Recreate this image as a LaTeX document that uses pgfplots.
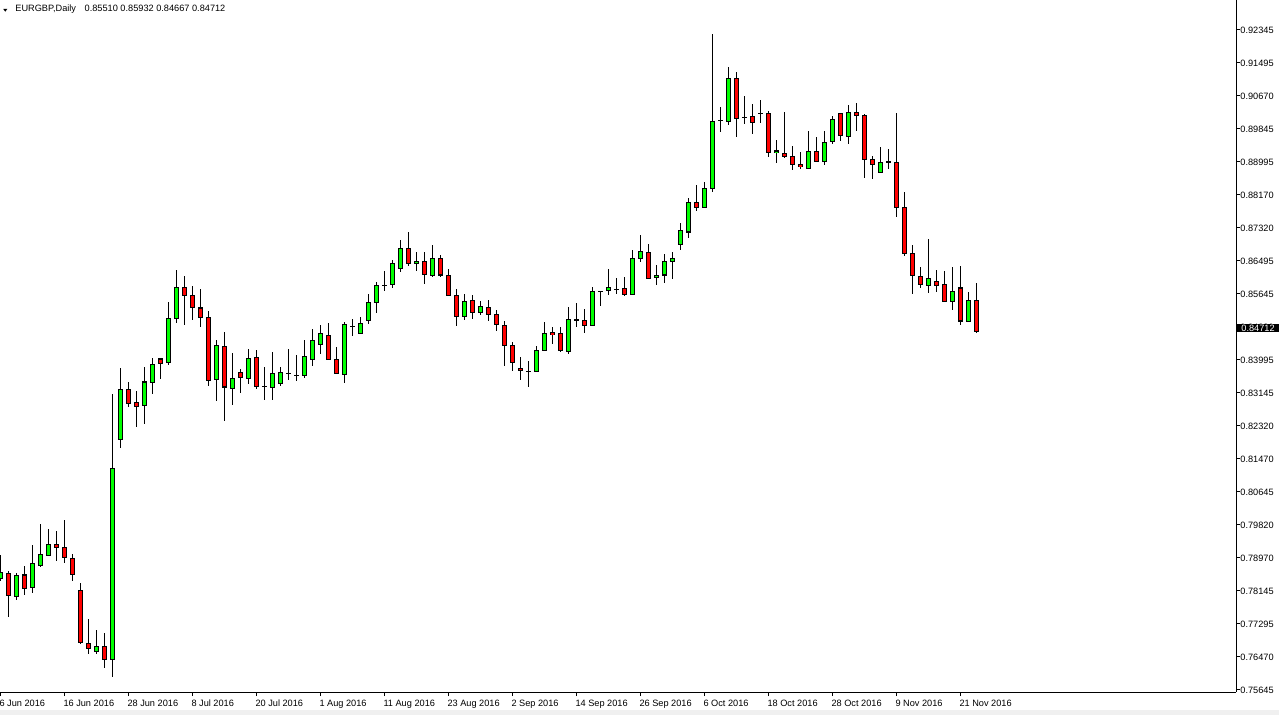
\documentclass[border=0pt]{standalone}
\usepackage{pgfplots}
\pgfplotsset{compat=1.18}
\usepackage{pgfplotstable}
\usepackage{fontspec}
\setmainfont{Liberation Sans}
\definecolor{mtgreen}{RGB}{0,255,0}
\definecolor{mtred}{RGB}{255,0,0}
\definecolor{stripgray}{RGB}{240,240,240}

\pgfplotstableread{
x O H L C
0 0.78454 0.79061 0.78403 0.78606
1 0.78580 0.78656 0.77492 0.78024
2 0.78024 0.78606 0.77922 0.78555
3 0.78555 0.78783 0.78049 0.78226
4 0.78226 0.79314 0.78099 0.78833
5 0.78808 0.79845 0.78757 0.79086
6 0.79061 0.79719 0.79036 0.79339
7 0.79339 0.79668 0.78909 0.79263
8 0.79263 0.79947 0.78859 0.79010
9 0.78985 0.79086 0.78403 0.78580
10 0.78150 0.78353 0.76822 0.76834
11 0.76834 0.77442 0.76556 0.76708
12 0.76607 0.77163 0.76556 0.76758
13 0.76758 0.77087 0.76202 0.76429
14 0.76429 0.83135 0.75974 0.81262
15 0.81996 0.83793 0.81768 0.83261
16 0.83261 0.83438 0.82806 0.82907
17 0.82932 0.83211 0.82300 0.82831
18 0.82856 0.83818 0.82376 0.83438
19 0.83438 0.84046 0.83135 0.83894
20 0.84020 0.84025 0.83514 0.83894
21 0.83919 0.85463 0.83869 0.85033
22 0.85033 0.86272 0.84931 0.85842
23 0.85842 0.86121 0.84881 0.85640
24 0.85640 0.85868 0.85007 0.85336
25 0.85311 0.85792 0.84830 0.85058
26 0.85083 0.85235 0.83337 0.83489
27 0.83489 0.84501 0.82958 0.84349
28 0.84349 0.84704 0.82452 0.83312
29 0.83287 0.84172 0.82856 0.83540
30 0.83691 0.83767 0.83160 0.83540
31 0.83540 0.84273 0.83388 0.84046
32 0.84046 0.84248 0.83261 0.83337
33 0.83337 0.83818 0.82983 0.83337
34 0.83287 0.84197 0.82983 0.83666
35 0.83388 0.83818 0.83337 0.83666
36 0.83666 0.84273 0.83489 0.83666
37 0.83616 0.84122 0.83464 0.83616
38 0.83616 0.84501 0.83540 0.84096
39 0.84020 0.84779 0.83843 0.84501
40 0.84375 0.84881 0.84147 0.84653
41 0.84628 0.84931 0.84015 0.84020
42 0.84020 0.84324 0.83636 0.83641
43 0.83616 0.84957 0.83413 0.84881
44 0.84855 0.85033 0.84602 0.84855
45 0.84678 0.85083 0.84673 0.84931
46 0.85007 0.85665 0.84906 0.85463
47 0.85463 0.85969 0.85184 0.85893
48 0.85893 0.86247 0.85741 0.85893
49 0.85918 0.86525 0.85817 0.86449
50 0.86298 0.87031 0.86222 0.86804
51 0.86804 0.87234 0.86374 0.86449
52 0.86449 0.86728 0.86247 0.86500
53 0.86500 0.86728 0.85918 0.86171
54 0.86146 0.86905 0.86095 0.86576
55 0.86551 0.86652 0.86095 0.86146
56 0.86146 0.86298 0.85614 0.85640
57 0.85640 0.85792 0.84855 0.85108
58 0.85108 0.85665 0.85007 0.85488
59 0.85513 0.85640 0.85033 0.85210
60 0.85210 0.85488 0.85134 0.85361
61 0.85336 0.85513 0.84982 0.85159
62 0.85134 0.85260 0.84729 0.84881
63 0.84881 0.84982 0.83843 0.84375
64 0.84349 0.84451 0.83717 0.83919
65 0.83793 0.84071 0.83489 0.83742
66 0.83717 0.83970 0.83312 0.83717
67 0.83717 0.84349 0.83712 0.84248
68 0.84248 0.84957 0.84223 0.84678
69 0.84678 0.84830 0.84400 0.84628
70 0.84653 0.84830 0.84197 0.84223
71 0.84223 0.85336 0.84147 0.85033
72 0.85007 0.85437 0.84830 0.85007
73 0.85007 0.85286 0.84678 0.84881
74 0.84881 0.85842 0.84855 0.85741
75 0.85741 0.85746 0.85361 0.85741
76 0.85741 0.86298 0.85640 0.85817
77 0.85792 0.86070 0.85665 0.85792
78 0.85817 0.86095 0.85614 0.85665
79 0.85640 0.86778 0.85635 0.86551
80 0.86551 0.87158 0.86475 0.86728
81 0.86728 0.86930 0.86065 0.86070
82 0.86095 0.86399 0.85893 0.86146
83 0.86146 0.86677 0.85943 0.86475
84 0.86500 0.86728 0.86045 0.86576
85 0.86905 0.87462 0.86778 0.87259
86 0.87234 0.88094 0.87082 0.87993
87 0.87968 0.88423 0.87765 0.87866
88 0.87866 0.88499 0.87841 0.88347
89 0.88322 0.92244 0.88246 0.90017
90 0.90068 0.90397 0.89764 0.90068
91 0.90042 0.91409 0.89941 0.91131
92 0.91131 0.91282 0.89638 0.90118
93 0.90144 0.90675 0.89967 0.90144
94 0.90144 0.90473 0.89714 0.90017
95 0.90245 0.90574 0.89992 0.90245
96 0.90220 0.90296 0.89132 0.89233
97 0.89233 0.89562 0.88980 0.89283
98 0.89233 0.90270 0.89106 0.89157
99 0.89132 0.89410 0.88803 0.88954
100 0.88929 0.89258 0.88828 0.88879
101 0.88853 0.89789 0.88848 0.89283
102 0.89283 0.89638 0.89025 0.89030
103 0.89030 0.89789 0.88929 0.89511
104 0.89536 0.90169 0.89461 0.90093
105 0.90245 0.90250 0.89536 0.89688
106 0.89663 0.90447 0.89461 0.90270
107 0.90270 0.90498 0.89789 0.90194
108 0.90194 0.90220 0.88600 0.89081
109 0.89081 0.89157 0.88575 0.88954
110 0.88752 0.89385 0.88727 0.89005
111 0.89005 0.89334 0.88828 0.89005
112 0.89005 0.90245 0.87613 0.87866
113 0.87866 0.88246 0.86627 0.86702
114 0.86702 0.86905 0.85665 0.86146
115 0.86095 0.86348 0.85817 0.85893
116 0.85868 0.87057 0.85690 0.86045
117 0.85994 0.86272 0.85716 0.85893
118 0.85893 0.86247 0.85463 0.85488
119 0.85488 0.86348 0.85260 0.85741
120 0.85817 0.86374 0.84881 0.84982
121 0.84982 0.85716 0.84957 0.85513
122 0.85510 0.85932 0.84667 0.84712
}\candles

\begin{document}
\begin{tikzpicture}
\useasboundingbox (0pt,0pt) rectangle (639.5pt,-357.5pt);
\fill[stripgray] (0pt,-355pt) rectangle (639.5pt,-357.5pt);
\begin{axis}[
  at={(0pt,0pt)}, anchor=north west,
  scale only axis, width=618pt, height=346pt,
  xmin=-0.0375, xmax=154.46, ymin=0.75594, ymax=0.93104,
  axis x line*=bottom, axis y line*=right,
  axis line style={black, line width=0.5pt},
  tick align=outside, major tick length=2pt,
  tick style={black, line width=0.5pt},
  xtick={0,8,...,120},
  xticklabels={6 Jun 2016,16 Jun 2016,28 Jun 2016,8 Jul 2016,20 Jul 2016,1 Aug 2016,11 Aug 2016,23 Aug 2016,2 Sep 2016,14 Sep 2016,26 Sep 2016,6 Oct 2016,18 Oct 2016,28 Oct 2016,9 Nov 2016,21 Nov 2016},
  ytick={0.75645,0.76480,0.77315,0.78150,0.78985,0.79820,0.80655,0.81490,0.82325,0.83160,0.83995,0.84830,0.85665,0.86500,0.87335,0.88170,0.89005,0.89840,0.90675,0.91510,0.92345},
  yticklabels={0.75645,0.76470,0.77295,0.78145,0.78970,0.79820,0.80645,0.81470,0.82320,0.83145,0.83995,0.84820,0.85645,0.86495,0.87320,0.88170,0.88995,0.89845,0.90670,0.91495,0.92345},
  ticklabel style={font=\fontsize{4.6pt}{5pt}\selectfont},
  xticklabel style={anchor=north west, inner sep=0pt, text height=3.4pt, text depth=0pt, xshift=-0.6pt, yshift=-1.6pt},
  yticklabel style={anchor=west, inner sep=0pt},
  every axis plot/.append style={draw=none, mark=none},
]
% wicks
\addplot[draw=none, mark=none, forget plot,
  error bars/.cd, y dir=both, y explicit, error mark=none,
  error bar style={line width=0.5pt, draw=black, solid}]
  table[x=x, y expr={(\thisrow{H}+\thisrow{L})/2}, y error expr={(\thisrow{H}-\thisrow{L})/2}] {\candles};
% body outlines
\addplot[draw=none, mark=none, forget plot,
  error bars/.cd, y dir=both, y explicit, error mark=none,
  error bar style={line width=2.5pt, draw=black, solid}]
  table[x=x, y expr={(\thisrow{O}+\thisrow{C})/2}, y error expr={abs(\thisrow{C}-\thisrow{O})/2+0.000127}] {\candles};
% green fills
\addplot[draw=none, mark=none, forget plot,
  error bars/.cd, y dir=both, y explicit, error mark=none,
  error bar style={line width=1.5pt, draw=mtgreen, solid}]
  table[x=x, y expr={\thisrow{C}>=\thisrow{O} ? (\thisrow{O}+\thisrow{C})/2 : nan}, y error expr={max(abs(\thisrow{C}-\thisrow{O})/2-0.000127,0)}] {\candles};
% red fills
\addplot[draw=none, mark=none, forget plot,
  error bars/.cd, y dir=both, y explicit, error mark=none,
  error bar style={line width=1.5pt, draw=mtred, solid}]
  table[x=x, y expr={\thisrow{C}<\thisrow{O} ? (\thisrow{O}+\thisrow{C})/2 : nan}, y error expr={max(abs(\thisrow{C}-\thisrow{O})/2-0.000127,0)}] {\candles};
\coordinate (pricept) at (axis cs:154.46,0.84712);
\end{axis}
\node[anchor=west, fill=black, text=white, inner xsep=2pt, inner ysep=0.5pt,
  font=\fontsize{4.6pt}{5pt}\selectfont, xshift=0.5pt, yshift=1.8pt] at (pricept) {0.84712};
\fill[black] (1.65pt,-4.5pt) -- (3.65pt,-4.5pt) -- (2.65pt,-5.85pt) -- cycle;
\node[anchor=base west, inner sep=0pt, font=\fontsize{4.6pt}{5pt}\selectfont] at (7.5pt,-5.65pt) {EURGBP,Daily};
\node[anchor=base west, inner sep=0pt, font=\fontsize{4.6pt}{5pt}\selectfont] at (42.15pt,-5.65pt) {0.85510 0.85932 0.84667 0.84712};
\end{tikzpicture}
\end{document}
